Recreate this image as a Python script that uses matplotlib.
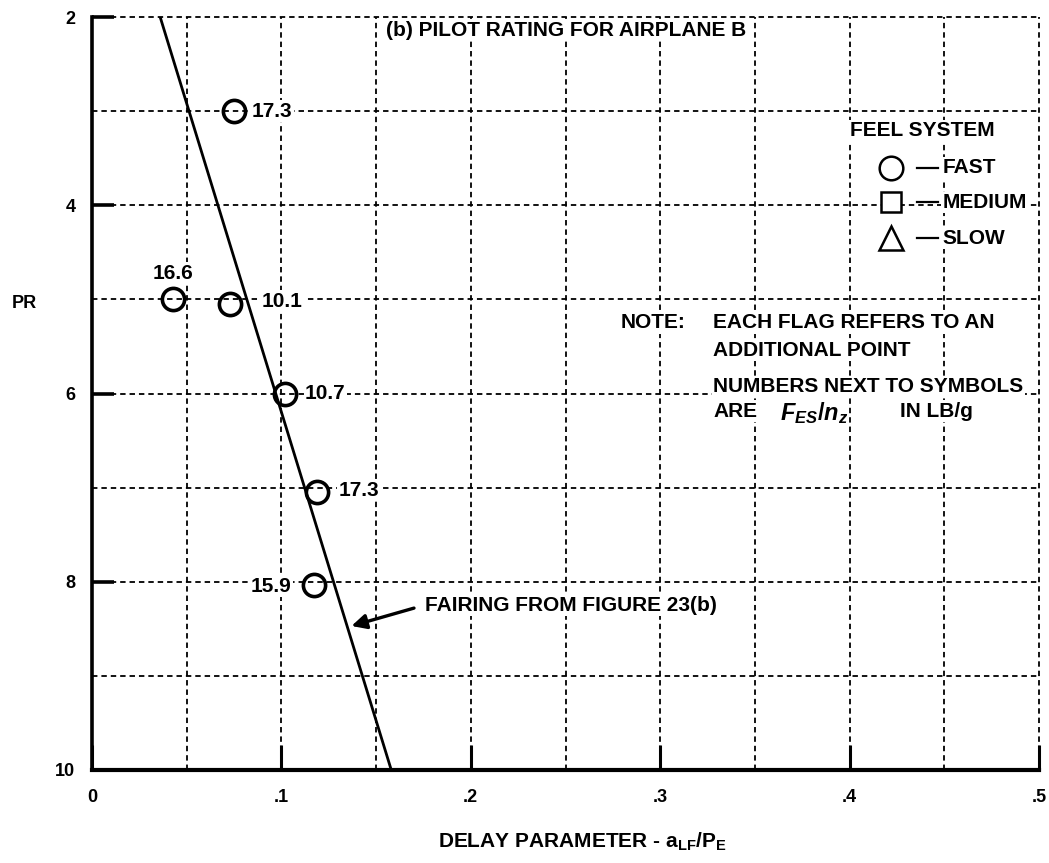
import matplotlib
matplotlib.use("Agg")
import matplotlib.pyplot as plt
from matplotlib.ticker import FixedLocator, FixedFormatter

plt.rcParams['font.family'] = ['Liberation Sans', 'DejaVu Sans']
plt.rcParams['font.weight'] = 'bold'
plt.rcParams['mathtext.fontset'] = 'custom'
plt.rcParams['mathtext.rm'] = 'Liberation Sans:bold'
plt.rcParams['mathtext.bf'] = 'Liberation Sans:bold'
plt.rcParams['mathtext.it'] = 'Liberation Sans:italic'

# ---- data ----
delay = [0.075, 0.043, 0.073, 0.102, 0.119, 0.117]
pilot_rating = [3.0, 5.0, 5.05, 6.0, 7.05, 8.03]
force_labels = ["17.3", "16.6", "10.1", "10.7", "17.3", "15.9"]
fairing_delay = [0.036, 0.158]
fairing_pr = [2.0, 10.0]
x_ticks = [0.0, 0.1, 0.2, 0.3, 0.4, 0.5]
x_ticklabels = ["0", ".1", ".2", ".3", ".4", ".5"]
y_ticks = [2, 4, 6, 8, 10]
y_ticklabels = ["2", "4", "6", "8", "10"]
x_minor = [0.05, 0.15, 0.25, 0.35, 0.45]
y_minor = [3, 5, 7, 9]

FS = 15
TFS = 13
WB = dict(fc='white', ec='none', pad=1.0)

fig = plt.figure(figsize=(10.49, 8.63), dpi=100)
ax = fig.add_axes([0.0877, 0.1078, 0.9028, 0.8724])
ax.set_xlim(0, 0.5)
ax.set_ylim(10, 2)

# grid (dotted) including top and right borders
grid_kw = dict(color='black', lw=1.3, ls=(0, (3, 2.2)), zorder=1, clip_on=False)
for xv in x_minor + x_ticks[1:]:
    ax.axvline(xv, **grid_kw)
for yv in y_minor + y_ticks[:-1]:
    ax.axhline(yv, **grid_kw)

ax.spines['top'].set_visible(False)
ax.spines['right'].set_visible(False)
ax.spines['left'].set_linewidth(2.6)
ax.spines['bottom'].set_linewidth(3.0)

ax.xaxis.set_major_locator(FixedLocator(x_ticks))
ax.xaxis.set_major_formatter(FixedFormatter(x_ticklabels))
ax.yaxis.set_major_locator(FixedLocator(y_ticks))
ax.yaxis.set_major_formatter(FixedFormatter(y_ticklabels))
ax.tick_params(axis='x', which='major', direction='in', length=18, width=2.2,
               pad=14, labelsize=TFS)
ax.tick_params(axis='y', which='major', direction='in', length=16, width=2.6,
               pad=12, labelsize=TFS)
for lab in ax.get_xticklabels() + ax.get_yticklabels():
    lab.set_fontweight('bold')

# fairing line
ax.plot(fairing_delay, fairing_pr, color='black', lw=2.0, zorder=3)

# data points
ax.plot(delay, pilot_rating, ls='none', marker='o', ms=16, mew=2.6,
        mfc='none', mec='black', zorder=4)

# point labels
offsets = [(0.0095, 0.0, 'left', 'center'),
           (0.0, -0.28, 'center', 'center'),
           (0.0165, -0.03, 'left', 'center'),
           (0.0105, 0.0, 'left', 'center'),
           (0.011, -0.02, 'left', 'center'),
           (-0.0115, 0.02, 'right', 'center')]
for xv, yv, lab, (dx, dy, ha, va) in zip(delay, pilot_rating, force_labels, offsets):
    ax.text(xv + dx, yv + dy, lab, ha=ha, va=va, fontsize=FS, fontweight='bold',
            zorder=5, bbox=WB)

# title
ax.text(0.155, 2.14, "(b) PILOT RATING FOR AIRPLANE B", ha='left', va='center',
        fontsize=FS, fontweight='bold', zorder=5, bbox=WB)

# legend
ax.text(0.400, 3.21, "FEEL SYSTEM", ha='left', va='center', fontsize=FS,
        fontweight='bold', zorder=5, bbox=WB)
leg_items = [('o', 3.6, "FAST", 17), ('s', 3.97, "MEDIUM", 14), ('^', 4.35, "SLOW", 17)]
for mk, yv, lab, ms in leg_items:
    ax.plot([0.422], [yv], marker=mk, ms=ms, mew=1.8,
            mfc='white', mec='black', ls='none', zorder=6, clip_on=False)
    ax.text(0.449, yv, lab, ha='left', va='center', fontsize=FS, fontweight='bold',
            zorder=5, bbox=WB)
    ax.plot([0.4355, 0.4465], [yv, yv], color='black', lw=1.6, zorder=6)

# note
note_kw = dict(ha='left', va='center', fontsize=FS, fontweight='bold', zorder=5, bbox=WB)
ax.text(0.279, 5.25, "NOTE:", **note_kw)
ax.text(0.328, 5.25, "EACH FLAG REFERS TO AN", **note_kw)
ax.text(0.328, 5.54, "ADDITIONAL POINT", **note_kw)
ax.text(0.328, 5.93, "NUMBERS NEXT TO SYMBOLS", **note_kw)
ax.text(0.328, 6.19, "ARE", **note_kw)
ax.text(0.363, 6.21, r"$\mathit{F_{ES}/n_z}$", ha='left', va='center',
        fontsize=FS + 2, zorder=5)
ax.text(0.4266, 6.19, "IN LB/g", **note_kw)

# fairing annotation
ax.annotate("", xy=(0.137, 8.47), xytext=(0.170, 8.28),
            arrowprops=dict(arrowstyle='-|>', lw=2.4, color='black',
                            mutation_scale=22, shrinkA=0, shrinkB=0), zorder=5)
ax.text(0.176, 8.25, "FAIRING FROM FIGURE 23(b)", ha='left', va='center',
        fontsize=FS, fontweight='bold', zorder=5, bbox=WB)

# axis labels
fig.text(24.5 / 1049, 1 - 303 / 863, "PR", ha='center', va='center', fontsize=TFS,
         fontweight='bold')
fig.text(582 / 1049, 1 - 842 / 863, r"DELAY PARAMETER - $\mathbf{a_{LF}/P_E}$",
         ha='center', va='center', fontsize=FS, fontweight='bold')

fig.savefig("out.png", dpi=100)
